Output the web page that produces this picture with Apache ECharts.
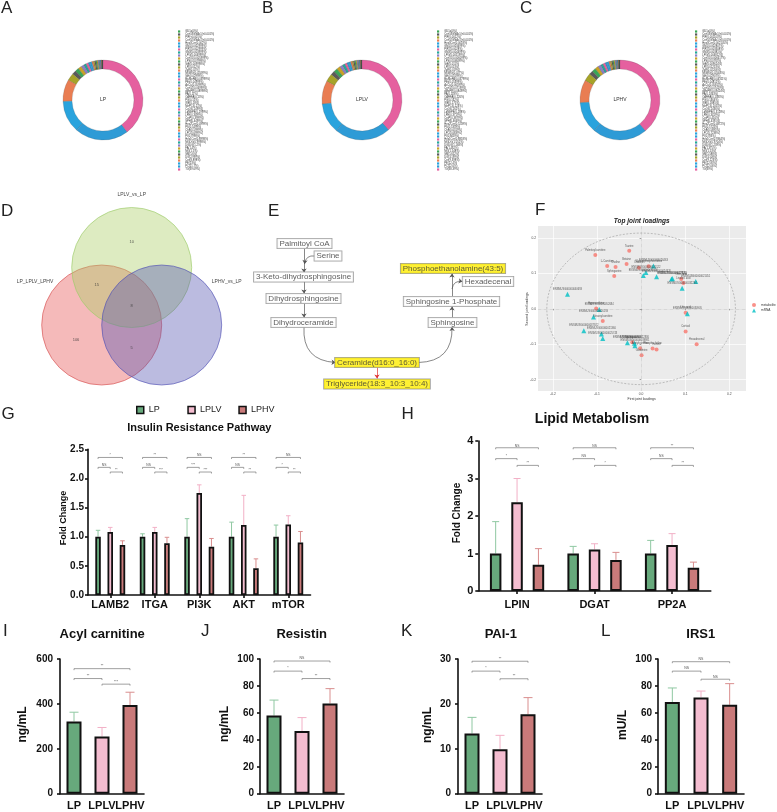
<!DOCTYPE html>
<html><head><meta charset="utf-8">
<script src="https://cdn.jsdelivr.net/npm/echarts@6/dist/echarts.min.js"></script>
<style>html,body{margin:0;padding:0;background:#fff}#c{width:777px;height:812px}</style>
</head><body><div id="c"></div>
<script>
// ================= DATA =================
const lipidClasses = ['GD1a','CerG3GNAc1','PIP','CerG2GNAc1','Hex3Cer','GM1','PIP2','GM3','LPG','CerG1','LPS','StE','LPI','ZyE','MGMG','SiE','BisMePA','PEt','AcCa','CerG2','dMePE','PA','OAHFA','PG','WE','MePC','CoQ','LdMePE','LPE','CerP','SPH','Hex2Cer','PS','ChE','LPC','PI','Hex1Cer','MGDG','DGDG','FA','MG','SM','DG','Cer','PE','PC','TG'];
const lpShares = [0,0.0006,0.001,0.0008,0.002,0.003,0.003,0.004,0.005,0.006,0.008,0.010,0.012,0.020,0.025,0.030,0.040,0.050,0.060,0.070,0.090,0.110,0.130,0.150,0.180,0.210,0.250,0.300,0.350,0.400,0.450,0.500,0.550,0.600,0.700,0.800,0.900,1.000,1.200,1.400,1.500,1.600,3.0,8.9,13.0,21.7,39.7];
const lplvShares = [0,0.0007,0.0012,0.0009,0.0018,0.0035,0.0028,0.0045,0.0052,0.0061,0.0085,0.011,0.013,0.019,0.027,0.032,0.038,0.054,0.066,0.072,0.085,0.118,0.126,0.162,0.175,0.224,0.262,0.288,0.372,0.388,0.467,0.521,0.536,0.632,0.684,0.846,0.882,1.052,1.168,1.462,1.548,1.652,3.2,9.4,12.4,22.6,38.4];
const lphvShares = [0,0.0005,0.0011,0.0007,0.0021,0.0028,0.0033,0.0038,0.0048,0.0066,0.0079,0.0096,0.0125,0.022,0.024,0.029,0.043,0.048,0.058,0.074,0.094,0.106,0.138,0.146,0.188,0.205,0.243,0.312,0.341,0.415,0.438,0.486,0.571,0.588,0.722,0.781,0.934,0.968,1.236,1.372,1.526,1.584,3.1,9.2,12.8,22.0,38.9];
const pieGroups = ['LP','LPLV','LPHV'];

const vennSets = ['LP_LPLV_LPHV','LPLV_vs_LP','LPHV_vs_LP'];
const vennRegionCounts = [10, 15, 8, 106, 5];

const pathwayNodes = ['Palmitoyl CoA','Serine','3-Keto-dihydrosphingosine','Dihydrosphingosine','Dihydroceramide','Ceramide(d16:0_16:0)','Triglyceride(18:3_10:3_10:4)','Sphingosine','Sphingosine 1-Phosphate','Hexadecenal','Phosphoethanolamine(43:5)'];
const highlightedNodes = ['Ceramide(d16:0_16:0)','Triglyceride(18:3_10:3_10:4)','Phosphoethanolamine(43:5)'];

const metaboliteNames = ['Palmitoylcarnitine','Taurine','L-Carnitine','Choline','Betaine','Creatine','Glycerophosphocholine','Sphinganine','Oleic acid','Linoleic acid','Hypoxanthine','Uric acid','Stearoylcarnitine','Cortisol','Hexadecenal','Sphingosine','Acetylcarnitine','Phosphocholine','Inosine','Glutamine'];
const metaboliteX = [-0.104,-0.027,-0.077,-0.058,-0.033,-0.005,0.017,-0.061,0.091,0.096,-0.102,0.101,-0.087,0.101,0.126,-0.020,-0.002,0.026,0.035,0.001];
const metaboliteY = [0.152,0.164,0.121,0.118,0.127,0.116,0.120,0.093,0.084,0.073,0.001,-0.011,-0.034,-0.064,-0.100,-0.094,-0.111,-0.112,-0.115,-0.131];
const mrnaNames = ['ENSMUSG00000026463','ENSMUSG00000020122','ENSMUSG00000031616','ENSMUSG00000024620','ENSMUSG00000027820','ENSMUSG00000028581','ENSMUSG00000021451','ENSMUSG00000032294','ENSMUSG00000040693','ENSMUSG00000052684','ENSMUSG00000026193','ENSMUSG00000030905','ENSMUSG00000037922','ENSMUSG00000021360','ENSMUSG00000025743','ENSMUSG00000047146','ENSMUSG00000022836','ENSMUSG00000039981'];
const mrnaX = [0.028,0.011,0.005,0.035,0.069,0.071,0.124,0.093,-0.167,-0.095,-0.108,0.105,-0.130,-0.090,-0.087,-0.031,-0.015,-0.014];
const mrnaY = [0.121,0.103,0.094,0.091,0.084,0.086,0.077,0.058,0.041,-0.002,-0.023,-0.014,-0.062,-0.071,-0.084,-0.096,-0.097,-0.104];

const groups = ['LP','LPLV','LPHV'];
const insulinGenes = ['LAMB2','ITGA','PI3K','AKT','mTOR'];
const insulinLP = [1,1,1,1,1];
const insulinLPLV = [1.08,1.08,1.75,1.20,1.21];
const insulinLPHV = [0.86,0.89,0.83,0.46,0.90];
const insulinSdLP = [0.11,0.05,0.31,0.25,0.20];
const insulinSdLPLV = [0.08,0.08,0.14,0.51,0.15];
const insulinSdLPHV = [0.07,0.10,0.14,0.16,0.19];
const insulinSig = [['*','NS','**'],['**','NS','***'],['NS','***','***'],['**','NS','**'],['NS','*','**']];

const lipidGenes = ['LPIN','DGAT','PP2A'];
const lipidLP = [1,1,1];
const lipidLPLV = [2.37,1.11,1.23];
const lipidLPHV = [0.70,0.83,0.62];
const lipidSdLP = [0.85,0.19,0.35];
const lipidSdLPLV = [0.63,0.15,0.30];
const lipidSdLPHV = [0.43,0.20,0.15];
const lipidSig = [['NS','*','**'],['NS','NS','*'],['**','NS','**']];

const acylCarnitine = [322,255,395];
const acylCarnitineSd = [41,40,57];
const acylCarnitineSig = ['**','**','***'];
const resistin = [58,46.5,67];
const resistinSd = [11.5,10,11];
const resistinSig = ['NS','*','**'];
const pai1 = [13.4,9.9,17.7];
const pai1Sd = [3.6,3.1,3.7];
const pai1Sig = ['**','*','**'];
const irs1 = [68,71.5,66];
const irs1Sd = [10.5,4.7,15.7];
const irs1Sig = ['NS','NS','NS'];

// ================= LAYOUT / STYLE =================
const FONT = '"Liberation Sans", Arial, Helvetica, sans-serif';
const groupColors = ['#67a97c','#f4bdd0','#c97a7a'];
const errColors = ['#8fc8a2','#f2b0c6','#d98e8e'];
const piePalette = ['#3aa655','#5a5a5a','#a6a329','#e97d52','#29a3dd','#2e9bd6','#e5609f','#26a69a','#8c7fc4','#c9a227'];
const pieCenters = [[103,100],[362,100],[620,100]];
const pieLegendLeft = [178,437,695];
const vennCircleLayout = [[101.7,325],[131.7,267.5],[161.7,325]];
const vennCircleStyle = [
  {color:'rgba(229,83,83,0.5)', borderColor:'#d65050'},
  {color:'rgba(169,205,99,0.5)', borderColor:'#9ccb6a'},
  {color:'rgba(85,85,177,0.5)', borderColor:'#5252b5'}
];
const vennLabelLayout = [[35,281.7],[131.7,195],[226.7,282]];
const vennCountLayout = [[131.7,241.7],[96.7,285],[131.7,306],[76,339.5],[131.7,348.3]];
const pathwayLayout = [[304.5,243.5],[328,256],[303.5,277],[303.5,298.5],[303.5,322.5],[377,362.5],[377,384],[452.5,322.5],[451.5,301.5],[488,281.5],[453,268.5]];
const pathwayArrows = [
  {coords:[[304,248.5],[304,272.5]]},
  {coords:[[315,256],[304.5,264]], curveness:-0.5},
  {coords:[[304,281.5],[304,293.5]]},
  {coords:[[304,303.5],[304,317.5]]},
  {coords:[[304,327],[335.5,362.5]], curveness:-0.5},
  {coords:[[418.5,362.5],[452,327]], curveness:-0.5},
  {coords:[[377,367.5],[377,378.5]], color:'#e03030'},
  {coords:[[452,317.5],[452,306.5]]},
  {coords:[[452,296.5],[452,273.5]]},
  {coords:[[452,289],[462.5,281.5]], curveness:0.5}
];
const loadingCircleRadius = 0.214;
const insulinBracketY = [2.36,2.19,2.11];
const lipidBracketY = [3.82,3.53,3.35];
const acylBracketY = [557,513,488];
const resistinBracketY = [98.5,91,85.5];
const paiBracketY = [29.5,27.3,25.6];
const irsBracketY = [98,91,85];
const PAIRS = [[0,2],[0,1],[1,2]];

// ================= HELPERS =================
function sum(a){return a.reduce((s,v)=>s+v,0);}
function txt(text, x, y, size, opt){
  opt = opt || {};
  const font = (opt.style||'') + ' ' + (opt.weight||'normal') + ' ' + size + 'px ' + FONT;
  return {type:'text', x:x, y:y, rotation:opt.rot||0, silent:true,
    style:{text:text, font:font, fill:opt.color||'#111', align:opt.align||'center', verticalAlign:'middle', textAlign:opt.align||'center', textVerticalAlign:'middle'}};
}
function pieSeries(i, shares){
  return {type:'pie', center:pieCenters[i], radius:[31,40], clockwise:false, startAngle:90, silent:true,
    label:{show:false}, labelLine:{show:false}, emphasis:{disabled:true}, avoidLabelOverlap:false,
    data: lipidClasses.map((n,k)=>({name:n, value:shares[k], itemStyle:{color:piePalette[k%piePalette.length], borderColor:'rgba(60,60,60,0.6)', borderWidth:0.3}}))};
}
function pieLegend(i, shares){
  const total = sum(shares);
  return {orient:'vertical', left:pieLegendLeft[i], top:30, padding:0, itemGap:0, itemWidth:2.2, itemHeight:2.2, icon:'rect',
    selectedMode:false, data:lipidClasses.slice(),
    itemStyle:{borderWidth:0},
    textStyle:{fontSize:2.7, lineHeight:3, color:'#333', fontFamily:FONT},
    formatter:function(name){
      const v = shares[lipidClasses.indexOf(name)]/total*100;
      let p;
      if (v===0) p='0'; else if (v<0.001) p='<0.001'; else p=String(Number(v.toPrecision(4)));
      return name+'('+p+'%)';
    }};
}
function hiddenAxis(gi, min, max, inverse){return {gridIndex:gi, type:'value', min:min, max:max, inverse:!!inverse, show:false};}
function barXAxis(gi, cats, tick, margin){
  return {gridIndex:gi, type:'category', data:cats,
    axisLine:{lineStyle:{color:'#111', width:1.6}},
    axisTick:{show:tick, alignWithLabel:true, length:3, lineStyle:{color:'#111', width:1.6}},
    axisLabel:{color:'#111', fontWeight:'bold', fontSize:11, margin:margin, interval:0, fontFamily:FONT}};
}
function barYAxis(gi, max, interval, fmt, fs, margin){
  return {gridIndex:gi, type:'value', min:0, max:max, interval:interval,
    axisLine:{show:true, lineStyle:{color:'#111', width:1.6}},
    axisTick:{show:true, length:3, lineStyle:{color:'#111', width:1.6}},
    splitLine:{show:false},
    axisLabel:{color:'#111', fontWeight:'bold', fontSize:fs, margin:margin, formatter:fmt, fontFamily:FONT}};
}
function errRender(spacing, capW){
  return function(params, api){
    const c = api.value(0), top = api.value(1), g = api.value(2), mean = api.value(3);
    const pT = api.coord([c, top]), pM = api.coord([c, mean]);
    const x = pT[0] + (g-1)*spacing;
    const st = {stroke:errColors[g], lineWidth:1};
    return {type:'group', children:[
      {type:'line', shape:{x1:x, y1:pM[1], x2:x, y2:pT[1]}, style:st},
      {type:'line', shape:{x1:x-capW/2, y1:pT[1], x2:x+capW/2, y2:pT[1]}, style:st}
    ]};
  };
}
function bracketRender(spacing, sig, single, fs){
  return function(params, api){
    const c = api.value(0), y = api.value(1), b = api.value(2);
    const pr = PAIRS[b];
    let x1, x2, py;
    if (single){ const p1 = api.coord([pr[0], y]), p2 = api.coord([pr[1], y]); x1=p1[0]; x2=p2[0]; py=p1[1]; }
    else { const p = api.coord([c, y]); x1 = p[0]+(pr[0]-1)*spacing; x2 = p[0]+(pr[1]-1)*spacing; py = p[1]; }
    const label = single ? sig[b] : sig[c][b];
    return {type:'group', children:[
      {type:'polyline', shape:{points:[[x1,py+1.5],[x1,py],[x2,py],[x2,py+1.5]]}, style:{stroke:'#777', lineWidth:0.7, fill:'none'}},
      {type:'text', x:(x1+x2)/2, y:py-0.6, style:{text:label, font:fs+'px '+FONT, fill:'#555', align:'center', verticalAlign:'bottom', textAlign:'center', textVerticalAlign:'bottom'}}
    ]};
  };
}
function groupedBars(gi, valuesArr, barWidth, barGap, bw){
  return valuesArr.map((vals,g)=>({type:'bar', name:groups[g], xAxisIndex:gi, yAxisIndex:gi, data:vals, barWidth:barWidth, barGap:barGap,
    itemStyle:{color:groupColors[g], borderColor:'#111', borderWidth:bw}, z:3, silent:true}));
}
function groupedErr(gi, meansArr, sdArr, spacing, capW){
  const data = [];
  meansArr.forEach((m,g)=>m.forEach((v,c)=>data.push([c, v+sdArr[g][c], g, v])));
  return {type:'custom', xAxisIndex:gi, yAxisIndex:gi, data:data, encode:{x:0,y:1}, z:1, silent:true, renderItem:errRender(spacing, capW)};
}
function groupedBrackets(gi, ncat, ylev, sig, spacing){
  const data = [];
  for (let c=0;c<ncat;c++) for (let b=0;b<3;b++) data.push([c, ylev[b], b]);
  return {type:'custom', xAxisIndex:gi, yAxisIndex:gi, data:data, encode:{x:0,y:1}, z:4, silent:true, renderItem:bracketRender(spacing, sig, false, 3.3)};
}
function singleBars(gi, vals, sds, ylev, sig){
  return [
    {type:'bar', xAxisIndex:gi, yAxisIndex:gi, barWidth:15, silent:true, z:3,
      data: vals.map((v,i)=>({value:v, itemStyle:{color:groupColors[i], borderColor:'#111', borderWidth:2}}))},
    {type:'custom', xAxisIndex:gi, yAxisIndex:gi, z:1, silent:true, encode:{x:0,y:1},
      data: vals.map((v,i)=>[i, v+sds[i], i, v]), renderItem:errRender(0, 9)},
    {type:'custom', xAxisIndex:gi, yAxisIndex:gi, z:4, silent:true, encode:{x:0,y:1},
      data: ylev.map((y,b)=>[b, y, b]), renderItem:bracketRender(0, sig, true, 3.5)}
  ];
}

// ================= OPTION =================
const grids = [
  {left:0, top:170, width:260, height:220},
  {left:250, top:200, width:270, height:200},
  {left:538, top:226, width:208, height:165, show:true, backgroundColor:'#ebebeb', borderWidth:0},
  {left:88, top:449.3, width:222.5, height:145.7},
  {left:478.3, top:441, width:232.5, height:150},
  {left:60, top:659, width:84, height:134.7},
  {left:260, top:659, width:84, height:134.7},
  {left:458, top:659, width:84, height:134.7},
  {left:658, top:659, width:86, height:134.7}
];
const loadTicks = [-0.2,-0.1,0,0.1,0.2];
const xAxes = [
  hiddenAxis(0,0,260),
  hiddenAxis(1,250,520),
  {gridIndex:2, type:'value', min:-0.234, max:0.238, axisLine:{show:false},
    axisTick:{show:true, length:1.5, lineStyle:{color:'#444', width:0.5}, customValues:loadTicks},
    axisLabel:{customValues:loadTicks, fontSize:3.3, color:'#4d4d4d', margin:2, formatter:v=>v.toFixed(1)},
    splitLine:{show:true, lineStyle:{color:'#ffffff', width:0.7}}},
  barXAxis(3, insulinGenes, true, 4),
  barXAxis(4, lipidGenes, true, 8),
  barXAxis(5, groups, false, 7),
  barXAxis(6, groups, false, 7),
  barXAxis(7, groups, false, 7),
  barXAxis(8, groups, false, 7)
];
const yAxes = [
  hiddenAxis(0,170,390,true),
  hiddenAxis(1,200,400,true),
  {gridIndex:2, type:'value', min:-0.232, max:0.234, axisLine:{show:false},
    axisTick:{show:true, length:1.5, lineStyle:{color:'#444', width:0.5}, customValues:loadTicks},
    axisLabel:{customValues:loadTicks, fontSize:3.3, color:'#4d4d4d', margin:2, formatter:v=>v.toFixed(1)},
    splitLine:{show:true, lineStyle:{color:'#ffffff', width:0.7}}},
  barYAxis(3, 2.5, 0.5, v=>v.toFixed(1), 10, 4),
  barYAxis(4, 4, 1, v=>String(v), 11, 5),
  barYAxis(5, 600, 200, v=>String(v), 10, 7),
  barYAxis(6, 100, 20, v=>String(v), 10, 6),
  barYAxis(7, 30, 10, v=>String(v), 10, 7),
  barYAxis(8, 100, 20, v=>String(v), 10, 6)
];

const series = [];
// A-C donuts
series.push(pieSeries(0, lpShares), pieSeries(1, lplvShares), pieSeries(2, lphvShares));
// D venn
series.push({type:'scatter', xAxisIndex:0, yAxisIndex:0, silent:true, symbolSize:120, z:2,
  data: vennSets.map((n,i)=>({name:n, value:vennCircleLayout[i], itemStyle:{color:vennCircleStyle[i].color, borderColor:vennCircleStyle[i].borderColor, borderWidth:0.8}}))});
series.push({type:'scatter', xAxisIndex:0, yAxisIndex:0, silent:true, symbolSize:1, z:3, itemStyle:{color:'rgba(0,0,0,0)'},
  label:{show:true, position:'inside', formatter:p=>String(vennRegionCounts[p.dataIndex]), fontSize:4, color:'#333'},
  data: vennRegionCounts.map((v,i)=>({value:vennCountLayout[i]}))});
// E pathway
series.push({type:'lines', coordinateSystem:'cartesian2d', xAxisIndex:1, yAxisIndex:1, silent:true, z:2,
  symbol:['none','arrow'], symbolSize:4,
  lineStyle:{color:'#555', width:0.7, opacity:1},
  data: pathwayArrows.map(a=>({coords:a.coords, lineStyle:{curveness:a.curveness||0, color:a.color||'#555'}}))});
series.push({type:'scatter', xAxisIndex:1, yAxisIndex:1, silent:true, symbolSize:1, z:3, itemStyle:{color:'rgba(0,0,0,0)'},
  data: pathwayNodes.map((n,i)=>({name:n, value:pathwayLayout[i],
    label:{backgroundColor: highlightedNodes.indexOf(n)>=0 ? '#ffee00' : '#ffffff'}})),
  label:{show:true, position:'inside', formatter:p=>p.name, fontSize:8, lineHeight:9, color:'#333', fontFamily:FONT,
    borderColor:'#8a8a8a', borderWidth:0.8, padding:[0.5,2,0,2]}});
// F loadings
series.push({type:'custom', xAxisIndex:2, yAxisIndex:2, data:[[0,0]], silent:true, z:1,
  renderItem:function(params, api){
    const c = api.coord([0,0]); const s = api.size([loadingCircleRadius, loadingCircleRadius]);
    return {type:'ellipse', shape:{cx:c[0], cy:c[1], rx:s[0], ry:s[1]}, style:{fill:'none', stroke:'#9a9a9a', lineWidth:0.6, lineDash:[2,1.5]}};
  }});
series.push({type:'scatter', name:'metabolite', xAxisIndex:2, yAxisIndex:2, symbol:'circle', symbolSize:4, silent:true, z:3,
  itemStyle:{color:'#F8766D'},
  label:{show:true, formatter:'{b}', position:'top', distance:1.5, fontSize:2.6, color:'#333'},
  data: metaboliteX.map((x,i)=>({name:metaboliteNames[i], value:[x, metaboliteY[i]]})),
  markLine:{silent:true, symbol:['none','none'], label:{show:false}, lineStyle:{color:'#9a9a9a', type:'dotted', width:0.6},
    data:[{xAxis:0},{yAxis:0}]}});
series.push({type:'scatter', name:'mRNA', xAxisIndex:2, yAxisIndex:2, symbol:'triangle', symbolSize:5, silent:true, z:3,
  itemStyle:{color:'#00BFC4'},
  label:{show:true, formatter:'{b}', position:'top', distance:1.5, fontSize:2.6, color:'#333'},
  data: mrnaX.map((x,i)=>({name:mrnaNames[i], value:[x, mrnaY[i]]}))});
// G insulin pathway
const gSpacing = 5.5*(1+1.22);
series.push(...groupedBars(3, [insulinLP, insulinLPLV, insulinLPHV], 5.5, '122%', 1.8));
series.push(groupedErr(3, [insulinLP, insulinLPLV, insulinLPHV], [insulinSdLP, insulinSdLPLV, insulinSdLPHV], gSpacing, 4.5));
series.push(groupedBrackets(3, insulinGenes.length, insulinBracketY, insulinSig, gSpacing));
// H lipid metabolism
const hSpacing = 11.5*(1+0.86);
series.push(...groupedBars(4, [lipidLP, lipidLPLV, lipidLPHV], 11.5, '86%', 2));
series.push(groupedErr(4, [lipidLP, lipidLPLV, lipidLPHV], [lipidSdLP, lipidSdLPLV, lipidSdLPHV], hSpacing, 7));
series.push(groupedBrackets(4, lipidGenes.length, lipidBracketY, lipidSig, hSpacing));
// I-L
series.push(...singleBars(5, acylCarnitine, acylCarnitineSd, acylBracketY, acylCarnitineSig));
series.push(...singleBars(6, resistin, resistinSd, resistinBracketY, resistinSig));
series.push(...singleBars(7, pai1, pai1Sd, paiBracketY, pai1Sig));
series.push(...singleBars(8, irs1, irs1Sd, irsBracketY, irs1Sig));

const legends = [
  pieLegend(0, lpShares), pieLegend(1, lplvShares), pieLegend(2, lphvShares),
  {data:['metabolite','mRNA'], orient:'vertical', left:752, top:303, padding:0, itemWidth:4, itemHeight:4, itemGap:1.5,
    textStyle:{fontSize:3.2, color:'#333'}, selectedMode:false}
];
const gLegendLeft = [136, 187.3, 238.3];
groups.forEach((g,i)=>legends.push({data:[g], left:gLegendLeft[i], top:405.5, padding:0, itemWidth:7, itemHeight:7, icon:'rect',
  itemStyle:{borderColor:'#111', borderWidth:1.5}, textStyle:{fontSize:9, color:'#222', fontFamily:FONT}, selectedMode:false}));

const texts = [];
[['A',1,8],['B',262,8],['C',520,8],['D',1,211.5],['E',268,211.5],['F',535,210],['G',1.5,414],['H',401.5,414],['I',3,631],['J',201,631],['K',401,631],['L',601,631]]
  .forEach(t=>texts.push(txt(t[0], t[1], t[2], 17, {align:'left', color:'#222'})));
pieGroups.forEach((g,i)=>texts.push(txt(g, pieCenters[i][0], pieCenters[i][1], 5, {color:'#333'})));
vennSets.forEach((s,i)=>texts.push(txt(s, vennLabelLayout[i][0], vennLabelLayout[i][1], 5, {color:'#444'})));
texts.push(txt('Top joint loadings', 641.7, 221.7, 6.5, {weight:'bold', style:'italic', color:'#222'}));
texts.push(txt('First joint loadings', 641.7, 399, 3.5, {color:'#333'}));
texts.push(txt('Second joint loadings', 527, 309, 3.5, {color:'#333', rot:Math.PI/2}));
texts.push(txt('Insulin Resistance Pathway', 199.3, 428, 11, {weight:'bold'}));
texts.push(txt('Fold Change', 64, 518, 9, {weight:'bold', rot:Math.PI/2}));
texts.push(txt('Lipid Metabolism', 592, 419, 14, {weight:'bold'}));
texts.push(txt('Fold Change', 457.7, 513, 10, {weight:'bold', rot:Math.PI/2}));
texts.push(txt('Acyl carnitine', 102.2, 634, 13, {weight:'bold'}));
texts.push(txt('ng/mL', 22.5, 724.5, 12, {weight:'bold', rot:Math.PI/2}));
texts.push(txt('Resistin', 301.7, 634, 13, {weight:'bold'}));
texts.push(txt('ng/mL', 225, 724, 12, {weight:'bold', rot:Math.PI/2}));
texts.push(txt('PAI-1', 500.8, 634, 13, {weight:'bold'}));
texts.push(txt('ng/mL', 427.5, 725, 12, {weight:'bold', rot:Math.PI/2}));
texts.push(txt('IRS1', 700.8, 634, 13, {weight:'bold'}));
texts.push(txt('mU/L', 622.5, 725, 12, {weight:'bold', rot:Math.PI/2}));

const chart = echarts.init(document.getElementById('c'), null, {renderer:'canvas', width:777, height:812});
chart.setOption({
  animation:false,
  backgroundColor:'#ffffff',
  textStyle:{fontFamily:FONT},
  grid:grids, xAxis:xAxes, yAxis:yAxes,
  legend:legends,
  series:series,
  graphic:{elements:texts}
});
</script></body></html>
